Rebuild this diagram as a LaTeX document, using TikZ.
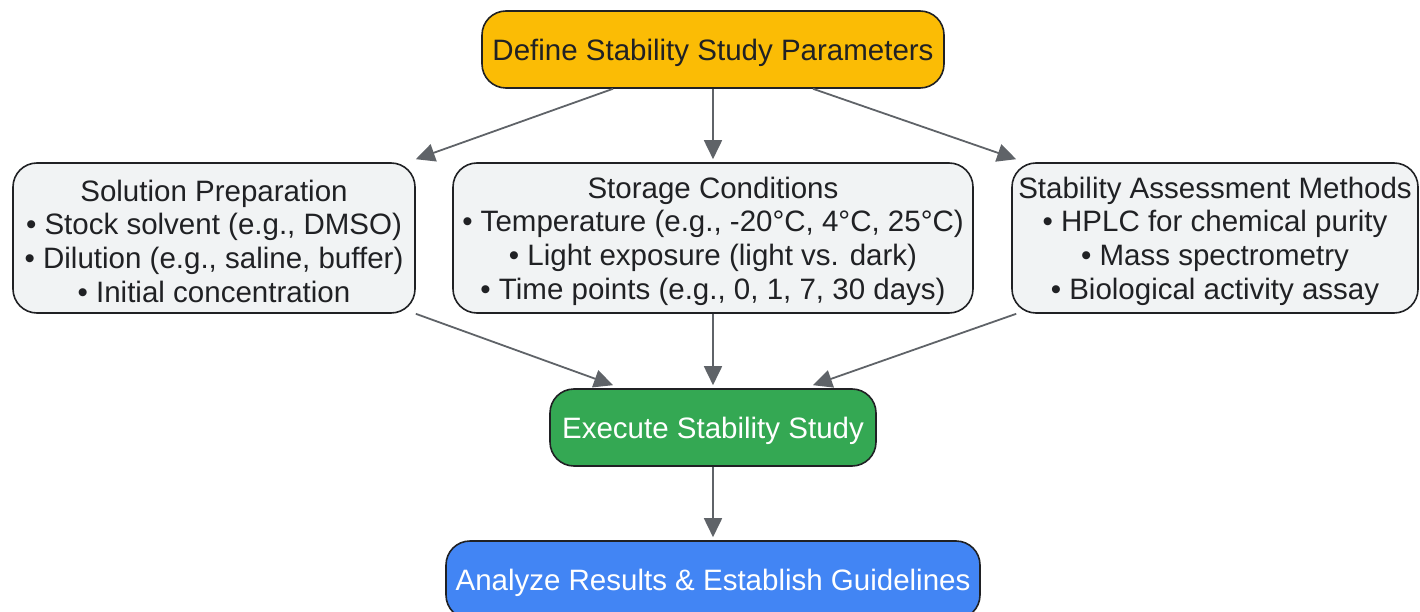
\documentclass[tikz,border=0pt]{standalone}
\usepackage{fontspec}
\setmainfont{Liberation Sans}
\usetikzlibrary{arrows.meta,calc}
\definecolor{cyellow}{HTML}{FBBC05}
\definecolor{cgray}{HTML}{F1F3F4}
\definecolor{cgreen}{HTML}{34A853}
\definecolor{cblue}{HTML}{4285F4}
\definecolor{cborder}{HTML}{202124}
\definecolor{carrow}{HTML}{5F6368}
\newcommand\mytopstrut{\rule{0pt}{27.5pt}}
\tikzset{
  box/.style={draw=cborder, line width=1.6pt, rounded corners=24pt, align=center,
    inner sep=0pt, font=\fontsize{29.5}{33.7}\selectfont, text=cborder},
  conn/.style={draw=carrow, line width=1.8pt, -{Triangle[length=19pt,width=18pt]}}
}
\begin{document}
\begin{tikzpicture}[x=1pt,y=-1pt]
\useasboundingbox (0,0) rectangle (1420,612);
\clip (0,0) rectangle (1420,612);
\node[box, fill=cyellow, minimum width=462pt, minimum height=77pt] (top) at (713,49.5) {\mytopstrut Define Stability Study Parameters};
\node[box, fill=cgray, minimum width=402pt, minimum height=150pt] (left) at (214,238)
  {\mytopstrut Solution Preparation\\• Stock solvent (e.g., DMSO)\\• Dilution (e.g., saline, buffer)\\• Initial concentration};
\node[box, fill=cgray, minimum width=520pt, minimum height=150pt] (mid) at (713,238)
  {\mytopstrut Storage Conditions\\• Temperature (e.g., -20°C, 4°C, 25°C)\\• Light exposure (light vs. dark)\\• Time points (e.g., 0, 1, 7, 30 days)};
\node[box, fill=cgray, minimum width=406pt, minimum height=150pt] (right) at (1215,238)
  {\mytopstrut Stability Assessment Methods\\• HPLC for chemical purity\\• Mass spectrometry\\• Biological activity assay};
\node[box, fill=cgreen, text=white, minimum width=326pt, minimum height=77pt] (exec) at (713,427.5) {\mytopstrut Execute Stability Study};
\node[box, fill=cblue, text=white, minimum width=534pt, minimum height=78pt] (ana) at (713,580) {\mytopstrut Analyze Results \& Establish Guidelines};
\draw[conn] ($(top.south)+(-100,0)$) -- ($(left.north east)+(0,-3)$);
\draw[conn] (top.south) -- ($(mid.north)+(0,-3)$);
\draw[conn] ($(top.south)+(100,0)$) -- ($(right.north west)+(5,-3)$);
\draw[conn] (left.south east) -- ($(exec.north)+(-100,-3)$);
\draw[conn] (mid.south) -- ($(exec.north)+(0,-3)$);
\draw[conn] ($(right.south west)+(5,0)$) -- ($(exec.north)+(100,-3)$);
\draw[conn] (exec.south) -- ($(ana.north)+(0,-3)$);
\end{tikzpicture}
\end{document}
